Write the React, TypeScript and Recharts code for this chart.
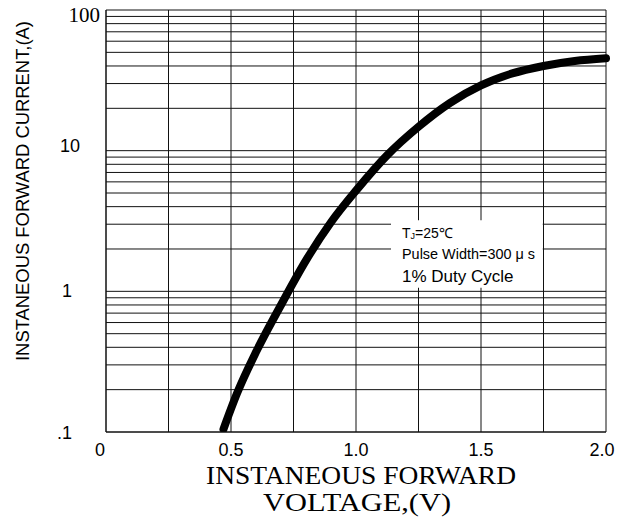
import {
  CartesianGrid,
  Customized,
  Line,
  LineChart,
  ReferenceArea,
  XAxis,
  YAxis,
} from "recharts";

// forward voltage (V) vs instantaneous forward current (A)
const voltage = [0.47, 0.525, 0.6, 0.7, 0.8, 0.9, 1.0, 1.125, 1.25, 1.375, 1.5, 1.625, 1.75, 1.875, 2.0];
const current = [0.105, 0.19, 0.37, 0.8, 1.66, 3.1, 5.2, 9.3, 14.8, 21.8, 29.1, 35.4, 40.0, 43.4, 45.4];

const voltageTicks = [0, 0.25, 0.5, 0.75, 1.0, 1.25, 1.5, 1.75, 2.0];
const voltageLabels: Record<string, string> = { "0": "0", "0.5": "0.5", "1": "1.0", "1.5": "1.5", "2": "2.0" };

const currentTicks = [
  0.1, 0.2, 0.3, 0.4, 0.5, 0.6, 0.7, 0.8, 0.9,
  1, 2, 3, 4, 5, 6, 7, 8, 9,
  10, 20, 30, 40, 50, 60, 70, 80, 90,
  100,
];
const currentLabels: Record<string, string> = { "0.1": ".1", "1": "1", "10": "10", "100": "100" };

const notes = ["Pulse Width=300 \u03bc s", "1% Duty Cycle"];

const data = voltage.map((v, i) => ({ v, i: current[i] }));

const SANS = "'Liberation Sans', Arial, sans-serif";
const SERIF = "'Liberation Serif', 'Times New Roman', serif";

function XTick({ x, y, payload }: any) {
  const label = voltageLabels[String(payload.value)];
  if (!label) return null;
  const dx = payload.value === 0 ? -6 : payload.value === 2 ? -4 : 0;
  return (
    <text x={x + dx} y={y + 24} textAnchor="middle" fontFamily={SANS} fontSize={18} fill="#000">
      {label}
    </text>
  );
}

function YTick({ x, y, payload }: any) {
  const label = currentLabels[String(payload.value)];
  if (!label) return null;
  const big = payload.value === 100;
  const dx = big ? -6 : payload.value === 10 ? -26 : -34;
  const dy = big ? 5 : payload.value === 10 ? -5 : payload.value === 0.1 ? 1 : 0;
  return (
    <text
      x={x + dx}
      y={y + dy}
      textAnchor="end"
      dominantBaseline="central"
      fontFamily={big ? SERIF : SANS}
      fontSize={big ? 21 : 18}
      fill="#000"
    >
      {label}
    </text>
  );
}

// text that sits inside the white box cut out of the grid
function ConditionsLabel() {
  return (
    <g fill="#000">
      <text x={402} y={238} fontFamily={SANS} fontSize={14}>
        T<tspan fontSize={9} dy={1}>J</tspan>
        <tspan dy={-1}>=25&#8451;</tspan>
      </text>
      <text x={402} y={259} fontFamily={SANS} fontSize={15.5} textLength={133} lengthAdjust="spacingAndGlyphs">
        {notes[0]}
      </text>
      <text x={402} y={282} fontFamily={SANS} fontSize={17}>
        {notes[1]}
      </text>
    </g>
  );
}

function AxisTitles() {
  return (
    <g fill="#000">
      <text
        x={23}
        y={191}
        transform="rotate(-90 23 191)"
        textAnchor="middle"
        dominantBaseline="central"
        fontFamily={SANS}
        fontSize={18}
        textLength={340}
        lengthAdjust="spacingAndGlyphs"
      >
        INSTANEOUS FORWARD CURRENT,(A)
      </text>
      <text x={361} y={484} textAnchor="middle" fontFamily={SERIF} fontSize={25} textLength={310} lengthAdjust="spacingAndGlyphs">
        INSTANEOUS FORWARD
      </text>
      <text x={357} y={511} textAnchor="middle" fontFamily={SERIF} fontSize={25} textLength={188} lengthAdjust="spacingAndGlyphs">
        VOLTAGE,(V)
      </text>
    </g>
  );
}

export default function App() {
  return (
    <div style={{ position: "absolute", left: 0, top: 0, width: 630, height: 522, background: "#fff" }}>
      <LineChart width={630} height={522} data={data} margin={{ top: 10, right: 24, left: 46, bottom: 60 }}>
        <CartesianGrid stroke="#111" strokeWidth={1} />
        <XAxis
          dataKey="v"
          type="number"
          domain={[0, 2]}
          ticks={voltageTicks}
          interval={0}
          tick={<XTick />}
          tickLine={false}
          tickSize={0}
          tickMargin={0}
          axisLine={{ stroke: "#111" }}
          height={30}
        />
        <YAxis
          type="number"
          scale="log"
          domain={[0.1, 100]}
          allowDataOverflow
          ticks={currentTicks}
          interval={0}
          tick={<YTick />}
          tickLine={false}
          tickSize={0}
          tickMargin={0}
          axisLine={{ stroke: "#111" }}
          width={60}
        />
        <ReferenceArea
          x1={1.14}
          x2={1.747}
          y1={1.06}
          y2={3.2}
          fill="#fff"
          fillOpacity={1}
          stroke="none"
          label={<ConditionsLabel />}
        />
        <Line
          dataKey="i"
          type="monotone"
          stroke="#000"
          strokeWidth={8}
          strokeLinecap="round"
          dot={false}
          isAnimationActive={false}
        />
        <Customized component={<AxisTitles />} />
      </LineChart>
    </div>
  );
}
